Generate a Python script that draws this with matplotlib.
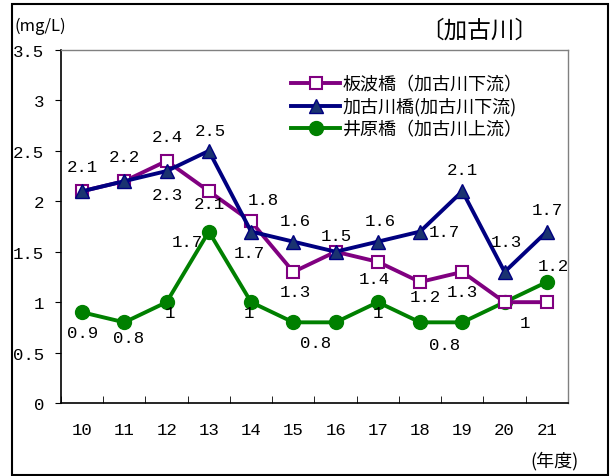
import numpy as np
import matplotlib.pyplot as plt
from matplotlib.patches import Rectangle

plt.rcParams['font.family'] = ['Noto Sans CJK JP', 'DejaVu Sans']

years = ['10', '11', '12', '13', '14', '15', '16', '17', '18', '19', '20', '21']
itanami = [2.1, 2.2, 2.4, 2.1, 1.8, 1.3, 1.5, 1.4, 1.2, 1.3, 1.0, 1.0]
kakogawa = [2.1, 2.2, 2.3, 2.5, 1.7, 1.6, 1.5, 1.6, 1.7, 2.1, 1.3, 1.7]
ihara = [0.9, 0.8, 1.0, 1.7, 1.0, 0.8, 0.8, 1.0, 0.8, 0.8, 1.0, 1.2]
names = ['板波橋（加古川下流）', '加古川橋(加古川下流)', '井原橋（加古川上流）']
yticks = [0, 0.5, 1, 1.5, 2, 2.5, 3, 3.5]
ytick_labels = ['0', '0.5', '1', '1.5', '2', '2.5', '3', '3.5']

num_font = ['Liberation Mono', 'DejaVu Sans Mono']

fig = plt.figure(figsize=(6.11, 4.77), dpi=100)
ax = fig.add_axes([0.0998, 0.153, 0.8298, 0.740])
x = np.arange(len(years))

ax.plot(x, itanami, color='#800080', lw=2.8, marker='s', ms=9,
        mfc='white', mec='#800080', mew=1.5, label=names[0], zorder=3)
ax.plot(x, kakogawa, color='#000080', lw=2.8, marker='^', ms=10,
        mfc='#1a3370', mec='#000080', label=names[1], zorder=4)
ax.plot(x, ihara, color='#008000', lw=2.8, marker='o', ms=10,
        mfc='#008000', mec='#008000', label=names[2], zorder=2)

# ラベルの位置 (series, index, dx, dy  単位px)
labels = [
    (kakogawa, 0, 0, 25), (kakogawa, 1, 0, 25),
    (itanami, 2, 1, 24), (kakogawa, 2, 1, -23),
    (kakogawa, 3, 1, 20), (itanami, 3, 0, -12), (ihara, 3, -22, -10),
    (itanami, 4, 12, 22), (kakogawa, 4, -2, -21), (ihara, 4, -2, -10),
    (kakogawa, 5, 2, 21), (itanami, 5, 2, -20), (ihara, 6, -20, -20),
    (kakogawa, 6, 1, 16),
    (kakogawa, 7, 2, 21), (itanami, 7, -4, -17), (ihara, 7, 0, -10),
    (kakogawa, 8, 24, 0), (itanami, 8, 5, -15),
    (kakogawa, 9, 0, 22), (itanami, 9, 0, -20), (ihara, 9, -18, -22),
    (kakogawa, 10, 2, 30), (ihara, 10, 20, -20),
    (kakogawa, 11, 0, 22), (ihara, 11, 6, 16),
    (ihara, 0, 0, -20), (ihara, 1, 4, -15), (ihara, 2, 3, -10),
]
for series, i, dx, dy in labels:
    v = series[i]
    ax.annotate(f'{v:g}', (x[i], v), xytext=(dx * 0.72, dy * 0.72),
                textcoords='offset points', ha='center', va='center',
                fontsize=12.5, family=num_font, zorder=5)

ax.set_xlim(-0.5, len(years) - 0.5)
ax.set_ylim(0, 3.5)
ax.set_yticks(yticks)
ax.set_yticklabels(ytick_labels, family=num_font, fontsize=12.5)
ax.set_xticks(x)
ax.set_xticklabels(years, fontsize=12.5, family=num_font)
ax.set_xticks(np.arange(len(years) + 1) - 0.5, minor=True)
ax.tick_params(axis='x', which='major', length=0, pad=14)
ax.tick_params(axis='x', which='minor', direction='in', length=5)
ax.tick_params(axis='y', direction='out', length=4, pad=8)

for s in ['left', 'bottom']:
    ax.spines[s].set_color('black')
    ax.spines[s].set_linewidth(1.2)
for s in ['top', 'right']:
    ax.spines[s].set_color('#808080')
    ax.spines[s].set_linewidth(1.0)

ax.legend(loc='upper left', bbox_to_anchor=(0.44, 0.95), frameon=False,
          fontsize=13, handlelength=2.7, handletextpad=0.15,
          labelspacing=0.25, borderaxespad=0)

fig.text(0.024, 0.945, '(mg/L)', fontsize=12, ha='left', va='center')
fig.text(0.784, 0.935, '〔加古川〕', fontsize=17, ha='center', va='center')
fig.text(0.908, 0.033, '(年度)', fontsize=13, ha='center', va='center')

fig.patches.append(Rectangle((12 / 611, 1 / 477), 596 / 611, 471 / 477,
                             transform=fig.transFigure, fill=False,
                             edgecolor='black', linewidth=1.5))

fig.savefig('out.png', dpi=100)
